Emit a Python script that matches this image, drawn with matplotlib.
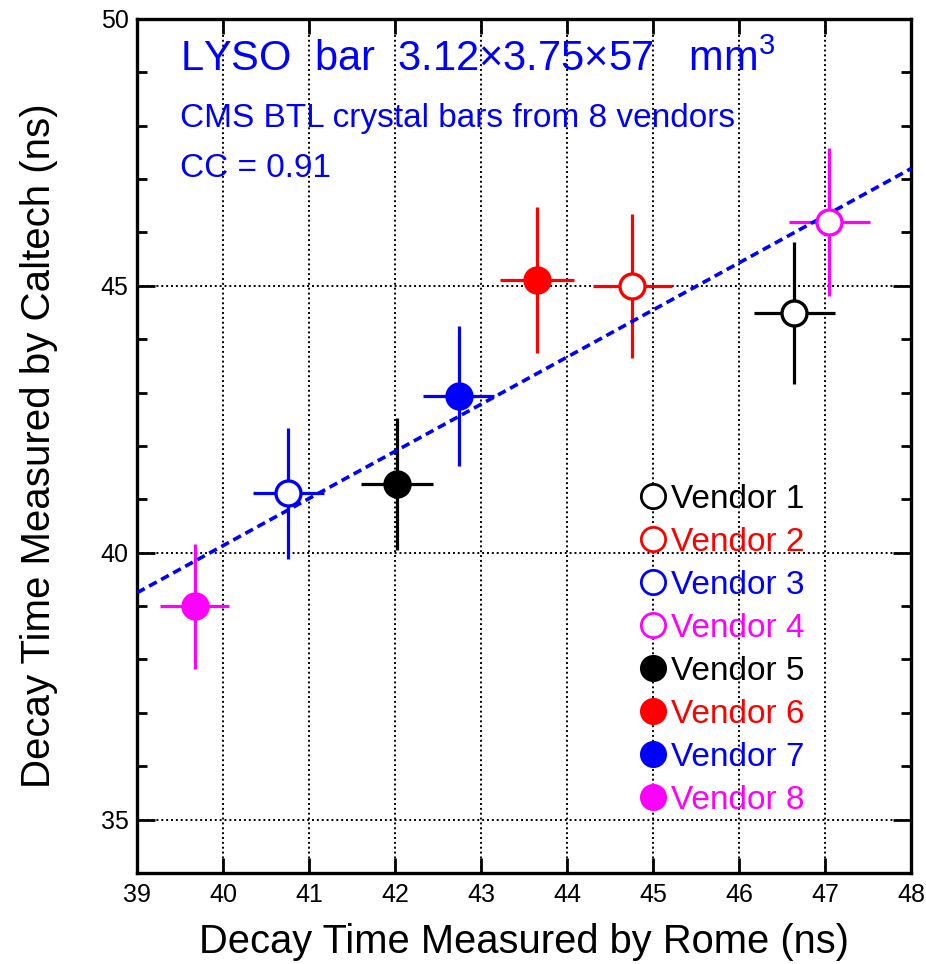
import numpy as np
import matplotlib
matplotlib.use("Agg")
import matplotlib.pyplot as plt
from matplotlib.lines import Line2D
from matplotlib.ticker import MultipleLocator

# Decay time of LYSO bars: Rome vs Caltech measurements, one point per vendor
vendors = ["Vendor 1", "Vendor 2", "Vendor 3", "Vendor 4",
           "Vendor 5", "Vendor 6", "Vendor 7", "Vendor 8"]
rome = [46.64, 44.76, 40.76, 47.05, 42.02, 43.65, 42.74, 39.67]
rome_err = [0.47, 0.46, 0.41, 0.47, 0.42, 0.43, 0.41, 0.40]
caltech = [44.49, 45.00, 41.11, 46.20, 41.29, 45.11, 42.93, 39.00]
caltech_err = [1.33, 1.35, 1.22, 1.39, 1.24, 1.36, 1.31, 1.17]
colors = ["black", "red", "blue", "magenta", "black", "red", "blue", "magenta"]
filled = [False, False, False, False, True, True, True, True]

# linear fit between the two labs
fit_slope = 0.883
fit_intercept = 39.25   # value at x = 39
fit_range = [39, 48]
cc_value = 0.91

main_font = "Liberation Sans"
plt.rcParams["font.family"] = [main_font, "DejaVu Sans"]
plt.rcParams["mathtext.fontset"] = "custom"
plt.rcParams["mathtext.rm"] = main_font
plt.rcParams["mathtext.it"] = main_font

fig = plt.figure(figsize=(9.26, 9.64), dpi=100)
ax = fig.add_axes([0.148, 0.0944, 0.836, 0.886])

# fit line
fx = np.array(fit_range, dtype=float)
fy = fit_intercept + fit_slope * (fx - fit_range[0])
ax.plot(fx, fy, color="blue", lw=2.6, dashes=(2.4, 1.4), zorder=3)

# data points with error bars
for i in range(len(vendors)):
    face = colors[i] if filled[i] else "white"
    ax.errorbar(rome[i], caltech[i], xerr=rome_err[i], yerr=caltech_err[i],
                fmt="none", ecolor=colors[i], elinewidth=2.3, capsize=0, zorder=2)
    ax.plot(rome[i], caltech[i], marker="o", ms=18, mfc=face, mec=colors[i],
            mew=2.4, linestyle="none", zorder=4)

# legend with coloured labels
handles = []
for i in range(len(vendors)):
    face = colors[i] if filled[i] else "white"
    handles.append(Line2D([], [], marker="o", ms=17.5, mfc=face, mec=colors[i],
                          mew=2.0, linestyle="none"))
ax.legend(handles, vendors, loc="upper left", bbox_to_anchor=(0.649, 0.456),
          frameon=False, fontsize=24, labelcolor=colors, handlelength=0.8,
          handletextpad=0.15, labelspacing=0.36, borderpad=0, borderaxespad=0)

ax.set_xlim(39, 48)
ax.set_ylim(34, 50)
ax.xaxis.set_major_locator(MultipleLocator(1))
ax.yaxis.set_major_locator(MultipleLocator(5))
ax.yaxis.set_minor_locator(MultipleLocator(1))

ax.grid(True, which="major", color="black", linestyle=(0, (1, 1.5)), linewidth=1.4)
ax.set_axisbelow(True)
ax.tick_params(which="both", direction="in", top=True, right=True, width=2, colors="black",
               labelsize=18)
ax.tick_params(axis="x", which="major", length=11, pad=7)
ax.tick_params(axis="y", which="major", length=13, pad=6)
ax.tick_params(axis="y", which="minor", length=7)
for sp in ax.spines.values():
    sp.set_linewidth(2.4)

ax.set_xlabel("Decay Time Measured by Rome (ns)", fontsize=28.7, labelpad=12)
ax.set_ylabel("Decay Time Measured by Caltech (ns)", fontsize=29, labelpad=31)

ax.text(39.5, 49.24, r"LYSO  bar  3.12$\times$3.75$\times$57   mm$^3$",
        color="blue", fontsize=30, va="center", ha="left")
ax.text(39.5, 48.14, "CMS BTL crystal bars from 8 vendors",
        color="blue", fontsize=24, va="center", ha="left")
ax.text(39.5, 47.2, "CC = {:.2f}".format(cc_value),
        color="blue", fontsize=24, va="center", ha="left")

fig.savefig("out.png", dpi=100)
